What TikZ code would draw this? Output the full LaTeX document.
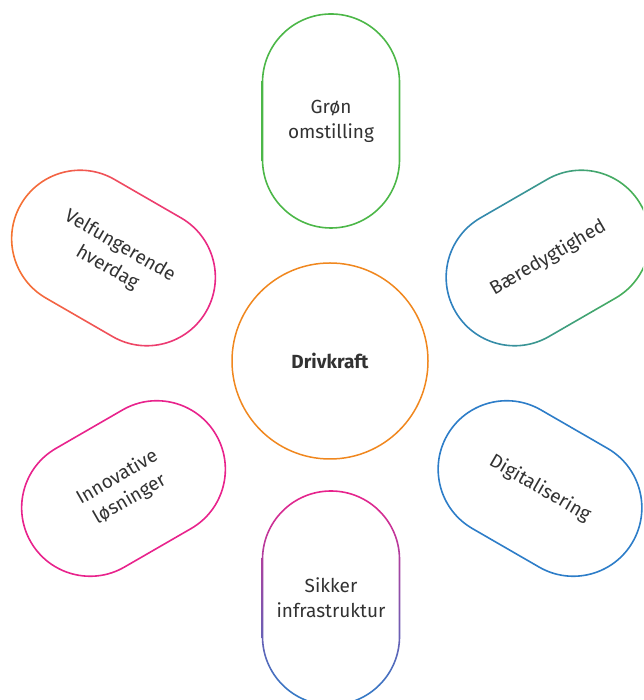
\documentclass[tikz,border=0pt]{standalone}
\usepackage{fontspec}
\setmainfont{Fira Sans}
\definecolor{cgreen}{RGB}{76,183,72}
\definecolor{corange}{RGB}{240,135,30}
\definecolor{corred}{RGB}{246,120,45}
\definecolor{cpink}{RGB}{232,35,140}
\definecolor{cblue}{RGB}{45,125,200}
\definecolor{cpurple}{RGB}{150,80,180}
\definecolor{ctext}{RGB}{50,50,50}
\newcommand\stadpath[1]{(-38.5,-#1) -- (38.5,-#1) arc[start angle=-90,end angle=90,radius=#1] -- (-38.5,#1) arc[start angle=90,end angle=270,radius=#1] -- cycle}
\newcommand\stadring[4]{%
\begin{scope}[shift={(#1,#2)},rotate=#3]
\shade[#4,even odd rule] \stadpath{69.3} \stadpath{67.7};
\end{scope}}
\tikzset{
  lbl/.style={align=center,text=ctext,font=\fontsize{19}{25}\selectfont,inner sep=0pt},
  hub/.style={circle,draw=corange,line width=1.5pt,minimum size=196pt,inner sep=0pt,text=ctext,font=\bfseries\fontsize{19}{25}\selectfont}
}
\begin{document}
\begin{tikzpicture}[x=1pt,y=1pt]
\useasboundingbox (0,0) rectangle (643,700);
\clip (0,0) rectangle (643,700);
% stadium rings
\stadring{331}{579}{90}{top color=cgreen,bottom color=cgreen}
\stadring{113.5}{442}{-30}{left color=corred,right color=cpink}
\stadring{548}{442}{30}{left color=cblue,right color=cgreen}
\stadring{123.5}{211.5}{30}{left color=cpink,right color=cpink}
\stadring{540}{211.5}{-30}{left color=cblue,right color=cblue}
\stadring{331}{102}{90}{top color=cpink,middle color=cpurple,bottom color=cblue}
% hub
\node[hub] (drv) at (330,339) {Drivkraft};
% labels
\node[lbl] (gron) at (331,579) {Grøn\\omstilling};
\node[lbl,rotate=-30] (velf) at (113.5,443) {Velfungerende\\hverdag};
\node[lbl,rotate=30] (baer) at (548,442) {Bæredygtighed};
\node[lbl,rotate=30] (innov) at (123.5,211.5) {Innovative\\løsninger};
\node[lbl,rotate=-30] (digi) at (540,211.5) {Digitalisering};
\node[lbl] (sikk) at (331,102) {Sikker\\infrastruktur};
\end{tikzpicture}
\end{document}
